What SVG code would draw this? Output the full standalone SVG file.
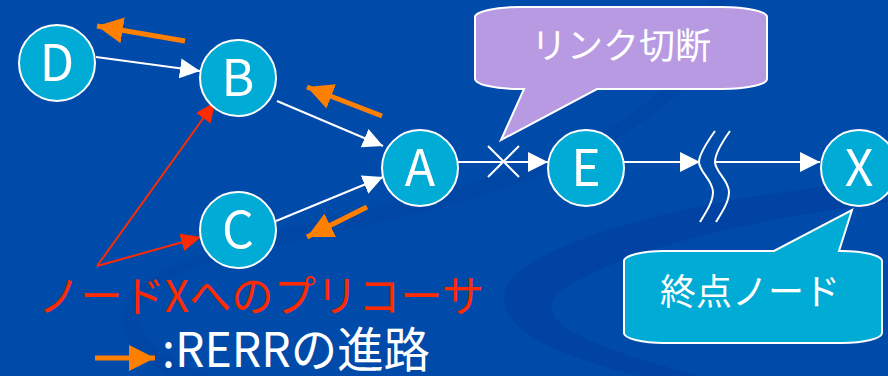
<svg xmlns="http://www.w3.org/2000/svg" width="888" height="376" viewBox="0 0 888 376">
<defs>
<style>
.node circle{fill:#00ABD6;stroke:#FFFFFF;stroke-width:2}
.node text{fill:#FFFFFF;font-family:"Noto Sans CJK JP","Noto Sans",sans-serif;font-size:50px;text-anchor:middle}
.w{stroke:#FFFFFF;stroke-width:2;fill:none}
.wa{stroke:#FFFFFF;stroke-width:2;fill:none;marker-end:url(#hw)}
.oa{stroke:#FF8000;stroke-width:5;fill:none;marker-end:url(#ho)}
.ra{stroke:#FF2A00;stroke-width:2;fill:none;marker-end:url(#hr)}
.cjk{font-family:"Noto Sans CJK JP","Noto Sans",sans-serif}
</style>
<marker id="hw" markerUnits="userSpaceOnUse" markerWidth="20" markerHeight="20" refX="20" refY="10" orient="auto"><path d="M0,0 L20,10 L0,20 Z" fill="#FFFFFF"/></marker>
<marker id="ho" markerUnits="userSpaceOnUse" markerWidth="26" markerHeight="26" refX="26" refY="13" orient="auto"><path d="M0,0 L26,13 L0,26 Z" fill="#FF8000"/></marker>
<marker id="hr" markerUnits="userSpaceOnUse" markerWidth="20" markerHeight="18" refX="20" refY="9" orient="auto"><path d="M0,0 L20,9 L0,18 Z" fill="#FF2A00"/></marker>
</defs>
<rect x="0" y="0" width="888" height="376" fill="#004AA9"/>
<g id="background" fill="#0043A2">
<path d="M888 180 C720 195 560 230 510 280 C485 320 540 352 640 376 L700 376 C580 345 530 318 560 292 C620 248 760 218 888 202 Z"/>
<path d="M730 0 C720 80 640 140 500 190 C380 230 200 250 150 290 C120 320 150 355 210 376 L170 376 C120 350 110 315 140 285 C200 240 360 215 480 180 C620 140 700 80 710 0 Z" opacity="0.5"/>
</g>
<g id="connectors">
<path class="wa" d="M96 57 L200 71"/>
<path class="wa" d="M277 101 L383 146"/>
<path class="wa" d="M276 221 L383 177"/>
<path class="wa" d="M458 162 L548 162"/>
<path class="w" d="M488 146 L519 177 M519 146 L488 177"/>
<path class="wa" d="M624 162 L700 162"/>
<path class="w" d="M715 131 C705 145 699 155 699 162 C699 172 713 180 713 192 C713 202 706 212 700 222"/>
<path class="w" d="M730 131 C720 145 715 155 715 162 C715 172 729 180 729 192 C729 202 722 212 716 222"/>
<path class="wa" d="M715 162 L820 162"/>
<path class="oa" d="M185 41 L97 26"/>
<path class="oa" d="M382 116 L307 87"/>
<path class="oa" d="M367 207 L307 237"/>
<path class="ra" d="M97 266 L215 102"/>
<path class="ra" d="M97 266 L201 237"/>
</g>
<g id="node-D" class="node"><circle cx="57" cy="63" r="38"/><text x="57" y="81">D</text></g>
<g id="node-B" class="node"><circle cx="238" cy="78" r="38"/><text x="238" y="96">B</text></g>
<g id="node-C" class="node"><circle cx="238" cy="230" r="38"/><text x="238" y="248">C</text></g>
<g id="node-A" class="node"><circle cx="420" cy="168" r="38"/><text x="420" y="186">A</text></g>
<g id="node-E" class="node"><circle cx="586" cy="168" r="38"/><text x="586" y="186">E</text></g>
<g id="node-X" class="node"><circle cx="859" cy="168" r="38"/><text x="859" y="186">X</text></g>
<g id="callout-link">
<path d="M520 7 H722 A45 10 0 0 1 767 17 V79 A45 10 0 0 1 722 89 H597 L501 140 L524 89 H520 A45 10 0 0 1 475 79 V17 A45 10 0 0 1 520 7 Z" fill="#B89AE2" stroke="#FFFFFF" stroke-width="2"/>
<text x="621" y="59" class="cjk" font-size="36" fill="#FFFFFF" text-anchor="middle">リンク切断</text>
</g>
<g id="callout-dest">
<path d="M664 251 H774 L852 210 L839 251 H842 A40 10 0 0 1 882 261 V333 A40 10 0 0 1 842 343 H664 A40 10 0 0 1 624 333 V261 A40 10 0 0 1 664 251 Z" fill="#00ABD6" stroke="#FFFFFF" stroke-width="2"/>
<text x="750" y="305" class="cjk" font-size="36" fill="#FFFFFF" text-anchor="middle">終点ノード</text>
</g>
<g id="legend">
<text x="38" y="312" class="cjk" font-size="43" fill="#FF2A00" textLength="446" lengthAdjust="spacingAndGlyphs">ノードXへのプリコーサ</text>
<path class="oa" d="M95 358 L155 358"/>
<text x="162" y="367" class="cjk" font-size="48" fill="#FFFFFF" textLength="268" lengthAdjust="spacingAndGlyphs">:RERRの進路</text>
</g>
</svg>
